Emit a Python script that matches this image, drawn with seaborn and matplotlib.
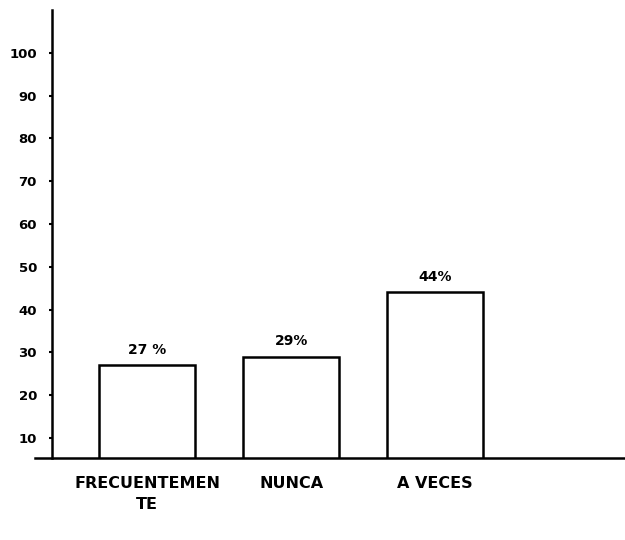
import pandas as pd
import matplotlib
matplotlib.use("Agg")
import matplotlib.pyplot as plt
import seaborn as sns

categories = ["FRECUENTEMENTE", "NUNCA", "A VECES"]
values = [27, 29, 44]
bar_labels = ["27 %", "29%", "44%"]
tick_labels = ["FRECUENTEMEN\nTE", "NUNCA", "A VECES"]
y_ticks = [10, 20, 30, 40, 50, 60, 70, 80, 90, 100]

df = pd.DataFrame({"respuesta": categories, "porcentaje": values})

sns.set_style("white")
plt.rcParams["font.family"] = ["DejaVu Sans"]
plt.rcParams["font.weight"] = "bold"
plt.rcParams["text.color"] = "black"
plt.rcParams["xtick.color"] = "black"
plt.rcParams["ytick.color"] = "black"

fig = plt.figure(figsize=(6.25, 5.4), dpi=100)
ax = fig.add_axes([35 / 625, 82 / 540, 590 / 625, 448 / 540])

sns.barplot(data=df, x="respuesta", y="porcentaje", ax=ax, width=0.67,
            color="white", edgecolor="black", linewidth=1.8)

ax.bar_label(ax.containers[0], labels=bar_labels, padding=6,
             fontsize=10, fontweight="bold", color="black")

ax.set_xlim(-0.78, 3.32)
ax.set_ylim(5.3, 110)
ax.spines["left"].set_position(("data", -0.66))
ax.spines["top"].set_visible(False)
ax.spines["right"].set_visible(False)
for side in ["left", "bottom"]:
    ax.spines[side].set_linewidth(1.8)
    ax.spines[side].set_color("black")

ax.set_yticks(y_ticks)
ax.set_yticklabels([str(t) for t in y_ticks], fontsize=9.5, fontweight="bold")
ax.tick_params(axis="y", left=True, length=2, width=1.5, pad=9, color="black",
               labelcolor="black")
ax.set_xticks(range(len(categories)))
ax.set_xticklabels(tick_labels, fontsize=11.5, fontweight="bold", linespacing=1.5)
ax.tick_params(axis="x", bottom=False, length=0, pad=13, labelcolor="black")
ax.set_xlabel("")
ax.set_ylabel("")

fig.savefig("out.png", dpi=100)
